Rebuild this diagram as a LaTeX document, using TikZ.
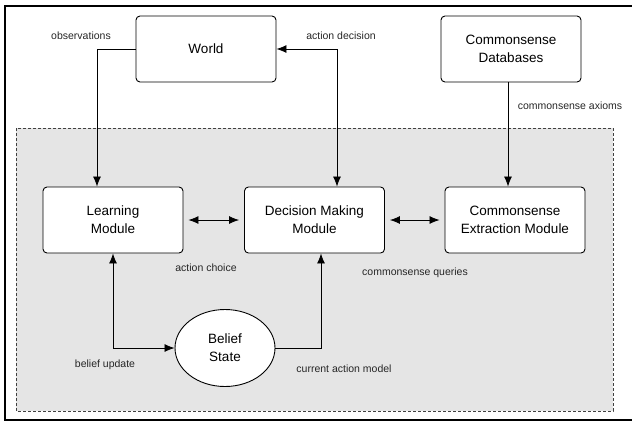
\documentclass[tikz,border=0pt]{standalone}
\usepackage{fontspec}
\setmainfont{Liberation Sans}
\usetikzlibrary{arrows.meta,shapes.geometric}
\tikzset{
  box/.style={draw=black, line width=0.9pt, rounded corners=4pt, fill=white,
    minimum width=140pt, minimum height=66pt, align=center,
    font=\fontsize{13.5}{18}\selectfont, inner sep=0pt},
  oval/.style={draw=black, line width=0.9pt, ellipse, fill=white,
    minimum width=100pt, minimum height=77pt, align=center,
    font=\fontsize{13.5}{18}\selectfont, inner sep=0pt},
  lbl/.style={font=\fontsize{10.5}{12}\selectfont, text=black!85, inner sep=0pt},
  arr/.style={draw=black, line width=0.8pt, -{Latex[length=10pt,width=8pt]}},
  darr/.style={draw=black, line width=0.8pt, {Latex[length=10pt,width=8pt]}-{Latex[length=10pt,width=8pt]}},
}
\begin{document}
\begin{tikzpicture}[x=1pt,y=-1pt]
\useasboundingbox (0,0) rectangle (632,424);
\draw[line width=2pt] (5,6) rectangle (636,420);
\draw[fill=black!10, draw=black!75, dashed, line width=0.7pt, dash pattern=on 3pt off 2pt] (16,128) rectangle (613,411);

\node[box] (world) at (206,49) {World};
\node[box] (db) at (511,49) {Commonsense\\Databases};
\node[box] (learn) at (113,220) {Learning\\Module};
\node[box] (dm) at (314.5,220) {Decision Making\\Module};
\node[box] (cem) at (515,220) {Commonsense\\Extraction Module};
\node[oval] (belief) at (225,348) {Belief\\State};

\draw[arr] (world.west) -| ([xshift=-16pt]learn.north);
\draw[darr] ([xshift=22.5pt]dm.north) |- (world.east);
\draw[arr] ([xshift=-3pt]db.south) -- ([xshift=-3pt]db.south |- cem.north);
\draw[darr, shorten <=5pt, shorten >=5pt] (learn.east) -- (dm.west);
\draw[darr, shorten <=5pt, shorten >=5pt] (dm.east) -- (cem.west);
\draw[darr] (learn.south) |- (belief.west);
\draw[arr] (belief.east) -| ([xshift=6.5pt]dm.south);

\node[lbl] (l1) at (81,36) {observations};
\node[lbl] (l2) at (341,36) {action decision};
\node[lbl] (l3) at (570,106) {commonsense axioms};
\node[lbl] (l4) at (206,268) {action choice};
\node[lbl] (l5) at (415,273) {commonsense queries};
\node[lbl] (l6) at (105,365) {belief update};
\node[lbl] (l7) at (344,369) {current action model};
\end{tikzpicture}
\end{document}
